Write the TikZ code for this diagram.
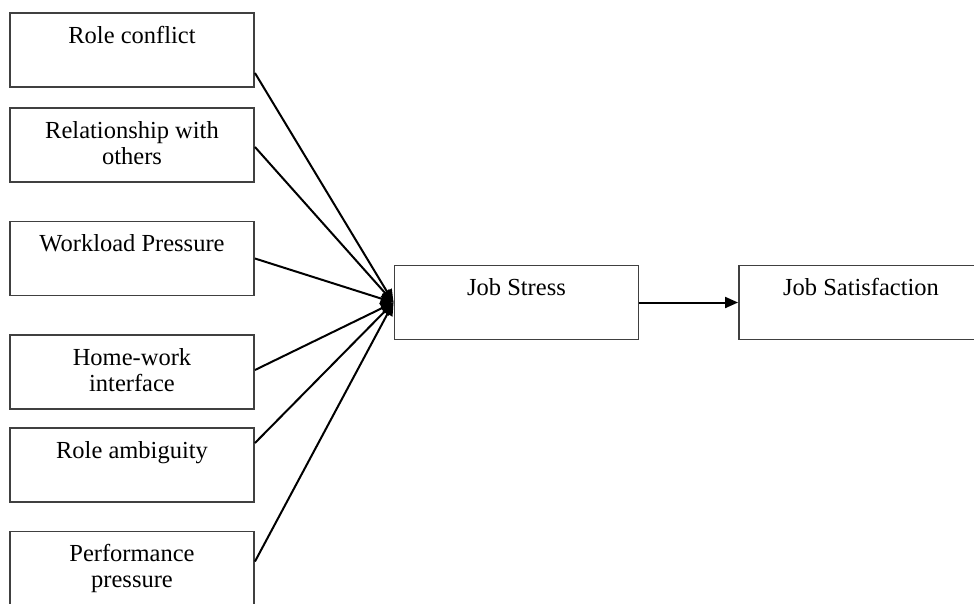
\documentclass[tikz,border=0pt]{standalone}
\usepackage{fontspec}
\setmainfont{Liberation Serif}
\usetikzlibrary{arrows.meta,positioning}

\tikzset{
  box/.style={draw=black!75, line width=1.9pt, minimum width=244pt, minimum height=74pt, inner sep=0pt},
  txt/.style={anchor=north, yshift=-13pt, inner sep=0pt, align=center, font=\fontsize{24.5}{26}\selectfont}
}

\begin{document}
\begin{tikzpicture}[>={Triangle[length=13pt,width=11pt]}, node distance=2cm, on grid, line width=2pt]
    \useasboundingbox (0pt,0pt) rectangle (974pt,-603pt);

    \node[box] (rc) at (132pt,-50pt) {};
    \node[box] [below=95pt of rc] (rwo) {};
    \node[box] [below=113.5pt of rwo] (wp) {};
    \node[box] [below=113.5pt of wp] (hwi) {};
    \node[box] [below=93pt of hwi] (ra) {};
    \node[box] [below=103.5pt of ra] (pp) {};
    \node[box] (js) at (516.5pt,-302.5pt) {};
    \node[box] [right=344.5pt of js] (jsat) {};

    \node[txt] at (rc.north) {Role conflict};
    \node[txt] at (rwo.north) {Relationship with\\others};
    \node[txt] at (wp.north) {Workload Pressure};
    \node[txt] at (hwi.north) {Home-work\\interface};
    \node[txt] at (ra.north) {Role ambiguity};
    \node[txt] at (pp.north) {Performance\\pressure};
    \node[txt] at (js.north) {Job Stress};
    \node[txt] at (jsat.north) {Job Satisfaction};

    \path[->]
    ([yshift=-23pt]rc.east) edge (js.west)
    ([yshift=-2pt]rwo.east) edge (js.west)
    (wp.east) edge (js.west)
    ([yshift=2pt]hwi.east) edge (js.west)
    ([yshift=22pt]ra.east) edge (js.west)
    ([yshift=7pt]pp.east) edge (js.west)
    (js) edge (jsat)
    ;
\end{tikzpicture}
\end{document}
